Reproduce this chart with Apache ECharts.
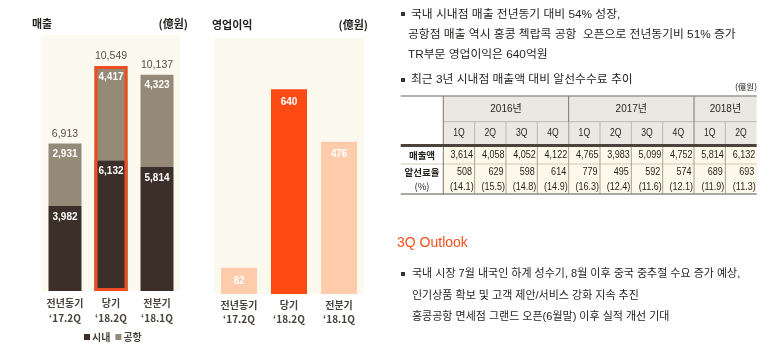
<!DOCTYPE html>
<html><head><meta charset="utf-8">
<script src="https://cdn.jsdelivr.net/npm/echarts@6/dist/echarts.min.js"></script>
<style>html,body{margin:0;padding:0;background:#fff}#c{width:773px;height:350px}</style>
</head><body><div id="c"></div>
<script>
// ---- data ----
const salesCategories = ['전년동기\n‘17.2Q', '당기\n‘18.2Q', '전분기\n‘18.1Q'];
const salesDowntown = [3982, 6132, 5814];
const salesAirport = [2931, 4417, 4323];
const salesTotal = [6913, 10549, 10137];
const profitCategories = ['전년동기\n‘17.2Q', '당기\n‘18.2Q', '전분기\n‘18.1Q'];
const profitValues = [82, 640, 476];
const highlightIndex = 1;

const tableYears = ['2016년', '2017년', '2018년'];
const tableYearSpans = [4, 4, 2];
const tableQuarters = ['1Q', '2Q', '3Q', '4Q', '1Q', '2Q', '3Q', '4Q', '1Q', '2Q'];
const tableRevenue = [3614, 4058, 4052, 4122, 4765, 3983, 5099, 4752, 5814, 6132];
const tableCommission = [508, 629, 598, 614, 779, 495, 592, 574, 689, 693];
const tableRate = [14.1, 15.5, 14.8, 14.9, 16.3, 12.4, 11.6, 12.1, 11.9, 11.3];
const tableRowLabels = ['매출액', '알선료율', '(%)'];

const topNotes = ['국내 시내점 매출 전년동기 대비 54% 성장,', '공항점 매출 역시 홍콩 첵랍콕 공항  오픈으로 전년동기비 51% 증가', 'TR부문 영업이익은 640억원'];
const tableTitle = '최근 3년 시내점 매출액 대비 알선수수료 추이';
const unitText = '(億원)';
const outlookTitle = '3Q Outlook';
const outlookNotes = ['국내 시장 7월 내국인 하계 성수기, 8월 이후 중국 중추절 수요 증가 예상,', '인기상품 확보 및 고객 제안/서비스 강화 지속 추진', '홍콩공항 면세점 그랜드 오픈(6월말) 이후 실적 개선 기대'];

// ---- styles ----
const KR = "'Noto Sans CJK KR', sans-serif";
const MIX = "'Liberation Sans', 'Noto Sans CJK KR', sans-serif";
const NUM = "'Liberation Sans', 'Noto Sans CJK KR', sans-serif";
const fmt = v => v.toLocaleString('en-US');
const TXT = '#221f1d';

const g = [];
function text(x, y, t, o, sx) {
  g.push({ type: 'text', x: x, y: y, silent: true, scaleX: sx || 1,
    style: Object.assign({ text: t, fill: TXT, fontSize: 11, fontFamily: MIX, align: 'left', verticalAlign: 'middle' }, o || {}) });
}
function rect(x, y, w, h, fill) { g.push({ type: 'rect', silent: true, shape: { x: x, y: y, width: w, height: h }, style: { fill: fill } }); }
function line(x1, y1, x2, y2, stroke, lw) { g.push({ type: 'line', silent: true, shape: { x1: x1, y1: y1, x2: x2, y2: y2 }, style: { stroke: stroke, lineWidth: lw } }); }

// chart titles
text(32, 24, '매출', { fontFamily: KR, fontSize: 11, fontWeight: 'bold' });
text(188, 24, unitText, { fontFamily: KR, fontSize: 11, fontWeight: 'bold', align: 'right' });
text(212, 25, '영업이익', { fontFamily: KR, fontSize: 11, fontWeight: 'bold' });
text(368, 25, unitText, { fontFamily: KR, fontSize: 11, fontWeight: 'bold', align: 'right' });

// top notes
rect(401, 12, 4, 4, '#333');
topNotes.forEach((t, i) => text(i === 0 ? 411 : 408, 15 + i * 20, t, { fontSize: 11.8 }));
rect(401, 78, 4, 4, '#333');
text(411, 80, tableTitle, { fontSize: 11.8 });
text(757, 87, unitText, { fontFamily: KR, fontSize: 8.5, align: 'right' });

// table
const tL = 400.7, tC = 443.3, tR = 756.7;
const cw = (tR - tC) / tableQuarters.length;
const yTop = 96, yMid = 121.7, yThick = 145.5, yRow = 164, yBot = 194;
rect(tC, yTop, tR - tC, yThick - yTop, '#ebe7e2');
rect(tC, yThick, tR - tC, yBot - yThick, '#fdf9ea');
line(tL, yTop, tR, yTop, '#9b9691', 1.5);
line(tC, yMid, tR, yMid, '#bdb7b1', 1);
line(tL, yRow, tR, yRow, '#cfc8bd', 1);
line(tL, yBot, tR, yBot, '#8f8883', 1.5);
line(tC, yTop, tC, yBot, '#7d7570', 1);
let col = 0;
tableYears.forEach((y, i) => {
  const x0 = tC + col * cw, x1 = tC + (col + tableYearSpans[i]) * cw;
  text((x0 + x1) / 2, 109.5, y, { fontFamily: NUM, fontSize: 10, align: 'center' });
  col += tableYearSpans[i];
  if (i < tableYears.length - 1) line(x1, yTop, x1, yThick, '#7d7570', 1);
});
const NS = 0.82;
tableQuarters.forEach((q, i) => {
  const x0 = tC + i * cw;
  if (i > 0) {
    line(x0, yMid, x0, yThick, '#bdb7b1', 1);
    line(x0, yThick, x0, yBot, '#a8a095', 1);
  }
  text(x0 + cw / 2, 133.5, q, { fontFamily: NUM, fontSize: 10.5, align: 'center' }, NS);
  text(x0 + cw - 1.5, 155, fmt(tableRevenue[i]), { fontFamily: NUM, fontSize: 11, align: 'right' }, NS);
  text(x0 + cw - 2.5, 172, fmt(tableCommission[i]), { fontFamily: NUM, fontSize: 11, align: 'right' }, NS);
  text(x0 + cw - 1, 186.5, '(' + tableRate[i].toFixed(1) + ')', { fontFamily: NUM, fontSize: 11, align: 'right' }, NS);
});
line(tL, yThick, tR, yThick, '#4b423c', 3);
text((tL + tC) / 2, 155, tableRowLabels[0], { fontFamily: KR, fontSize: 9.5, fontWeight: 'bold', align: 'center' });
text((tL + tC) / 2, 172, tableRowLabels[1], { fontFamily: KR, fontSize: 9.5, fontWeight: 'bold', align: 'center' });
text((tL + tC) / 2, 186.5, tableRowLabels[2], { fontFamily: KR, fontSize: 9.5, align: 'center' });

// outlook
text(397, 243, outlookTitle, { fill: '#f4511e', fontSize: 14, fontFamily: "'Liberation Sans', sans-serif" });
rect(401, 272, 4, 4, '#333');
outlookNotes.forEach((t, i) => text(412, 274 + i * 21.5, t, { fontSize: 11 }));

const chart = echarts.init(document.getElementById('c'), null, { renderer: 'canvas' });
const numLabel = { fontFamily: NUM, fontSize: 10, fontWeight: 'bold', color: '#fff' };
chart.setOption({
  animation: false,
  backgroundColor: '#fff',
  legend: {
    data: ['시내', '공항'], left: 84, top: 332, icon: 'rect', itemWidth: 6, itemHeight: 6, itemGap: 5, padding: 0,
    textStyle: { fontFamily: KR, fontSize: 10, fontWeight: 'bold', color: '#4a423c', padding: [0, 0, 0, -3] }
  },
  grid: [
    { left: 42, top: 35, width: 138, height: 256, show: true, backgroundColor: '#fcf9ef', borderWidth: 0 },
    { left: 214, top: 38, width: 150, height: 256, show: true, backgroundColor: '#fcf9ef', borderWidth: 0 }
  ],
  xAxis: [
    { gridIndex: 0, type: 'category', data: salesCategories, axisLine: { show: false }, axisTick: { show: false },
      axisLabel: { margin: 5, lineHeight: 15, fontSize: 10, fontFamily: KR, fontWeight: 'bold', color: '#4a423c', interval: 0 } },
    { gridIndex: 1, type: 'category', data: profitCategories, axisLine: { show: false }, axisTick: { show: false },
      axisLabel: { margin: 4, lineHeight: 14, fontSize: 10, fontFamily: KR, fontWeight: 'bold', color: '#4a423c', interval: 0 } }
  ],
  yAxis: [
    { gridIndex: 0, type: 'value', min: 0, max: 12000, show: false },
    { gridIndex: 1, type: 'value', min: 0, max: 800, show: false }
  ],
  series: [
    { name: '시내', type: 'bar', stack: 's', xAxisIndex: 0, yAxisIndex: 0, data: salesDowntown, barWidth: 33, barGap: '-100%',
      itemStyle: { color: '#3c2f2a' }, label: Object.assign({ show: true, position: 'insideTop', distance: 6, formatter: p => fmt(p.value) }, numLabel) },
    { name: '공항', type: 'bar', stack: 's', xAxisIndex: 0, yAxisIndex: 0, data: salesAirport, barWidth: 33, barGap: '-100%',
      itemStyle: { color: '#958977' }, label: Object.assign({ show: true, position: 'insideTop', distance: 6, formatter: p => fmt(p.value) }, numLabel) },
    { name: 'highlight', type: 'bar', xAxisIndex: 0, yAxisIndex: 0, barWidth: 33, barGap: '-100%', z: 4, silent: true,
      data: salesTotal.map((v, i) => i === highlightIndex ? v : '-'),
      itemStyle: { color: 'rgba(0,0,0,0)', borderColor: '#f04d1e', borderWidth: 3 } },
    { name: 'total', type: 'scatter', xAxisIndex: 0, yAxisIndex: 0, data: salesTotal, symbolSize: 1, itemStyle: { color: 'rgba(0,0,0,0)' },
      label: { show: true, position: 'top', distance: 4, fontFamily: NUM, fontSize: 10.5, color: '#2a221e', formatter: p => fmt(p.value) } },
    { name: '영업이익', type: 'bar', xAxisIndex: 1, yAxisIndex: 1, barWidth: 36,
      data: profitValues.map((v, i) => ({ value: v, itemStyle: { color: i === highlightIndex ? '#fd4912' : '#fecbab' } })),
      label: Object.assign({ show: true, position: 'insideTop', distance: 8, formatter: p => fmt(p.value) }, numLabel) }
  ],
  graphic: { elements: g }
});
</script></body></html>
